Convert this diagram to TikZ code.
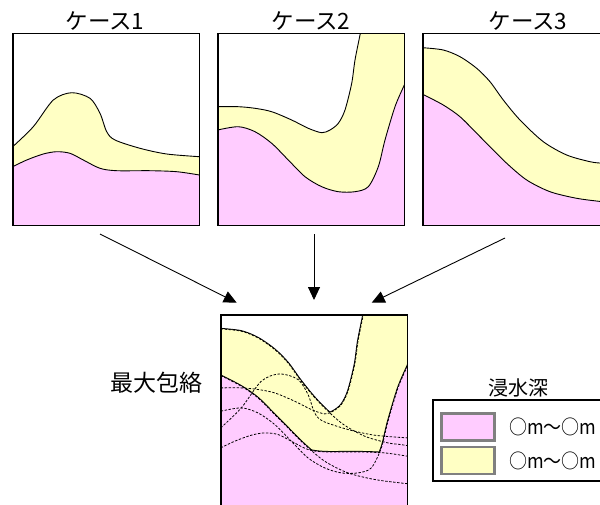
\documentclass[tikz,border=0pt]{standalone}
\usepackage{fontspec}
\setmainfont{Noto Sans CJK JP}
\usetikzlibrary{arrows.meta}
\definecolor{pnk}{HTML}{FFCCFF}
\definecolor{yel}{HTML}{FFFFC4}
\definecolor{swb}{HTML}{808080}
% case 1 curves
\def\rsAy{plot[smooth] coordinates {(12.7,146.7) (33.3,126.7) (53.3,100) (71.7,92.7) (90,98.3) (100,113.3) (106.7,131.7) (115,140) (140,148.3) (166.7,154) (199.5,156.7)}}
\def\rsAp{plot[smooth] coordinates {(12.7,166.7) (26.7,160) (43.3,154) (56.7,151.7) (70,153.3) (83.3,160) (100,168.3) (116.7,170.7) (150,170.7) (176.7,171.7) (199.5,175)}}
% case 2 curves
\def\rsBy{plot[smooth] coordinates {(217.7,106.7) (238.3,106.7) (255,108.3) (271.7,111.7) (291.7,120) (308.3,128.3) (321.7,132.7) (330,130) (338.3,123.3) (345,110) (351.7,83.3) (355,60) (360,35) (362,25)}}
\def\rsBp{plot[smooth] coordinates {(217.7,130) (238.3,126.7) (255,131.7) (271.7,143.3) (288.3,160) (305,176.7) (321.7,186.7) (338.3,191.7) (355,191.7) (368.3,186.7) (378.3,166.7) (385,140) (395,106.7) (404.3,85) (407,79)}}
% case 3 curves
\def\rsCy{plot[smooth] coordinates {(422.7,47.7) (443.3,50) (460,56.7) (476.7,68.3) (490,81.7) (503.3,100) (520,120) (543.3,141.7) (566.7,155) (590,161.7) (602.3,163.3) (610,164.5)}}
\def\rsCp{plot[smooth] coordinates {(422.7,94.3) (443.3,105) (460,116.7) (476.7,133.3) (490,146.7) (506.7,163.3) (526.7,180) (550,191.7) (576.7,198.3) (602.3,201.7) (610,202.5)}}
% regions below the curves
\def\rgAy{\rsAy -- (215,156.7) -- (215,300) -- (0,300) -- (0,146.7) -- cycle}
\def\rgAp{\rsAp -- (215,175) -- (215,300) -- (0,300) -- (0,166.7) -- cycle}
\def\rgBy{\rsBy -- (362,10) -- (430,10) -- (430,300) -- (200,300) -- (200,106.7) -- cycle}
\def\rgBp{\rsBp -- (407,60) -- (430,60) -- (430,300) -- (200,300) -- (200,130) -- cycle}
\def\rgCy{\rsCy -- (625,164.5) -- (625,300) -- (400,300) -- (400,47.7) -- cycle}
\def\rgCp{\rsCp -- (625,202.5) -- (625,300) -- (400,300) -- (400,94.3) -- cycle}
\tikzset{
  panel/.style={draw=black, line width=1.8pt, minimum width=186.8pt, minimum height=192pt, inner sep=0pt},
  curve/.style={draw=black, line width=0.9pt},
  envl/.style={draw=black, line width=2pt},
  dcurve/.style={draw=black, line width=0.8pt, dash pattern=on 2.4pt off 1.6pt},
  conn/.style={draw=black, line width=0.9pt, -{Triangle[length=13pt,width=12pt]}},
  bigtxt/.style={font=\fontsize{22.5}{26}\selectfont, inner sep=0pt},
  labtxt/.style={font=\fontsize{23}{27}\selectfont, inner sep=0pt},
  legtxt/.style={font=\fontsize{20}{24}\selectfont, inner sep=0pt},
  swatch/.style={draw=swb, line width=2.2pt, minimum width=53pt, minimum height=27pt, inner sep=0pt}
}
\begin{document}
\begin{tikzpicture}[x=1pt,y=-1pt]
\useasboundingbox (0,0) rectangle (600,504);
% ---- case panels ----
\begin{scope}
\clip (12.7,33.5) rectangle (199.5,225.5);
\fill[yel] \rgAy; \fill[pnk] \rgAp;
\draw[curve] \rsAy; \draw[curve] \rsAp;
\end{scope}
\begin{scope}
\clip (217.7,33.5) rectangle (404.5,225.5);
\fill[yel] \rgBy; \fill[pnk] \rgBp;
\draw[curve] \rsBy; \draw[curve] \rsBp;
\end{scope}
\begin{scope}
\clip (422.7,33.5) rectangle (609.5,225.5);
\fill[yel] \rgCy; \fill[pnk] \rgCp;
\draw[curve] \rsCy; \draw[curve] \rsCp;
\end{scope}
\node[panel] (c1) at (106.1,129.5) {};
\node[panel] (c2) at (311.1,129.5) {};
\node[panel] (c3) at (516.1,129.5) {};
\node[bigtxt] (t1) at (105,21) {ケース1};
\node[bigtxt] (t2) at (311,21) {ケース2};
\node[bigtxt] (t3) at (528,21) {ケース3};
% ---- envelope panel ----
\begin{scope}
\clip (220.7,314.7) rectangle (407.5,506.7);
\begin{scope}[shift={(208,281.2)}] \draw[envl, fill=yel] \rgAy; \end{scope}
\begin{scope}[shift={(3,281.2)}] \draw[envl, fill=yel] \rgBy; \end{scope}
\begin{scope}[shift={(-202,281.2)}] \draw[envl, fill=yel] \rgCy; \end{scope}
\begin{scope}[shift={(208,281.2)}] \fill[yel] \rgAy; \end{scope}
\begin{scope}[shift={(3,281.2)}] \fill[yel] \rgBy; \end{scope}
\begin{scope}[shift={(-202,281.2)}] \fill[yel] \rgCy; \end{scope}
\begin{scope}[shift={(208,281.2)}] \draw[envl, fill=pnk] \rgAp; \end{scope}
\begin{scope}[shift={(3,281.2)}] \draw[envl, fill=pnk] \rgBp; \end{scope}
\begin{scope}[shift={(-202,281.2)}] \draw[envl, fill=pnk] \rgCp; \end{scope}
\begin{scope}[shift={(208,281.2)}] \fill[pnk] \rgAp; \end{scope}
\begin{scope}[shift={(3,281.2)}] \fill[pnk] \rgBp; \end{scope}
\begin{scope}[shift={(-202,281.2)}] \fill[pnk] \rgCp; \end{scope}
\begin{scope}[shift={(208,281.2)}] \draw[dcurve] \rsAy; \draw[dcurve] \rsAp; \end{scope}
\begin{scope}[shift={(3,281.2)}] \draw[dcurve] \rsBy; \draw[dcurve] \rsBp; \end{scope}
\begin{scope}[shift={(-202,281.2)}] \draw[dcurve] \rsCy; \draw[dcurve] \rsCp; \end{scope}
\end{scope}
\node[panel] (env) at (314.1,410.7) {};
\node[labtxt] (lab) at (156.5,383) {最大包絡};
% ---- connectors ----
\coordinate (a1) at (100,234);
\coordinate (b1) at (236.7,302.7);
\coordinate (a2) at (314,234);
\coordinate (b2) at (314,300);
\coordinate (a3) at (505,238);
\coordinate (b3) at (371.7,302.7);
\draw[conn] (a1) -- (b1);
\draw[conn] (a2) -- (b2);
\draw[conn] (a3) -- (b3);
% ---- legend ----
\node[legtxt] (lt) at (518,388) {浸水深};
\draw[line width=1.5pt] (433,400) rectangle (615,481);
\node[swatch, fill=pnk] (s1) at (468,427) {};
\node[swatch, fill=yel] (s2) at (468,460.5) {};
\node[legtxt, anchor=west] (l1) at (509,427) {\scalebox{0.9}[1]{○m～○m}};
\node[legtxt, anchor=west] (l2) at (509,460.5) {\scalebox{0.9}[1]{○m～○m}};
\end{tikzpicture}
\end{document}
